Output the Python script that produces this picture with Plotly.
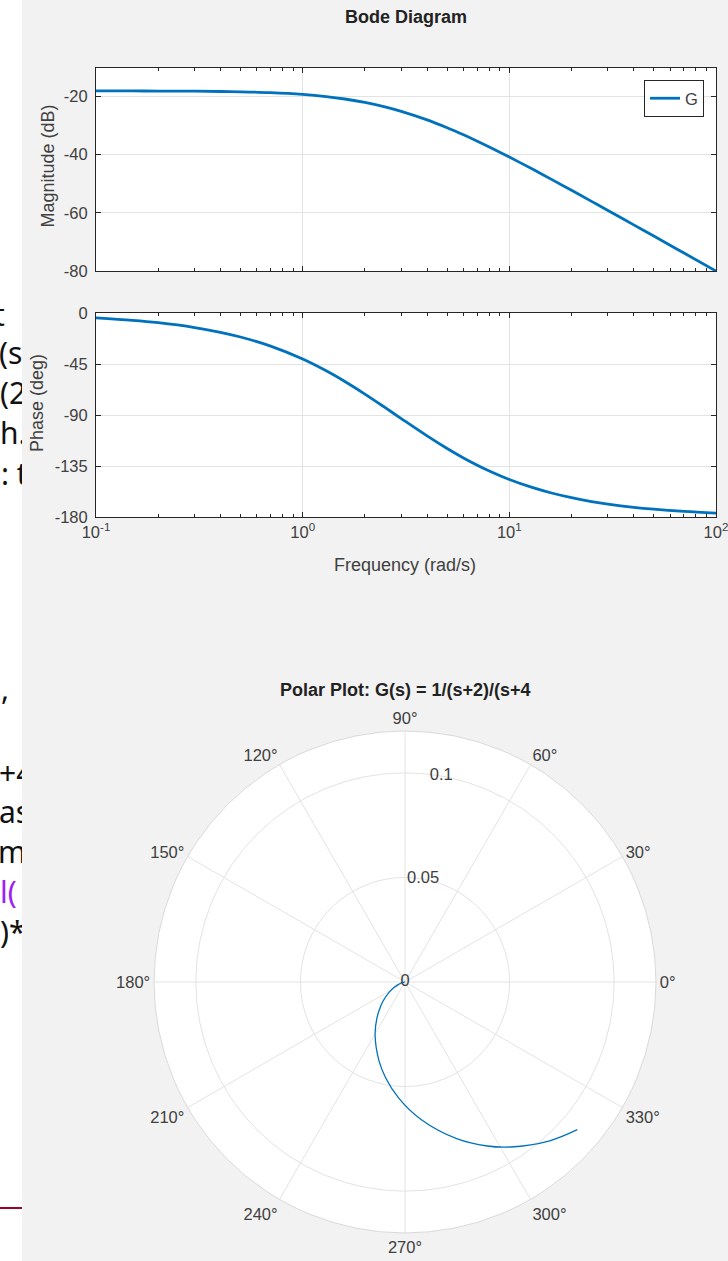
import plotly.graph_objects as go

W, H = 728, 1261

# ---------------- data ----------------
freq = [0.1, 0.15, 0.2, 0.3, 0.4, 0.5, 0.7, 1, 1.3, 1.6, 2, 2.5, 3, 4, 5, 6, 7, 8,
        10, 13, 16, 20, 25, 30, 40, 50, 70, 100]
mag_db = [-18.08, -18.09, -18.12, -18.18, -18.28, -18.39, -18.69, -19.29, -20.03,
          -20.86, -22.04, -23.58, -25.12, -28.06, -30.75, -33.18, -35.37, -37.36,
          -40.82, -45.05, -48.50, -52.26, -56.06, -59.18, -64.14, -67.99, -73.82, -80.01]
phase_deg = [-4.29, -6.44, -8.57, -12.82, -17.02, -21.16, -29.22, -40.60, -51.02,
             -60.46, -71.57, -83.35, -93.18, -108.43, -119.54, -127.87, -134.31,
             -139.40, -146.89, -154.15, -158.83, -162.98, -166.34, -168.59, -171.43,
             -173.14, -175.09, -176.56]

polar_r = [0.1085, 0.1027, 0.0936, 0.0877, 0.0791, 0.0662, 0.0555, 0.0467, 0.0395,
           0.0290, 0.0219, 0.0170, 0.0136, 0.0091, 0.00559, 0.00376, 0.00244,
           0.00110, 0.00040, 0.00010]
polar_theta = [-40.60, -47.66, -57.43, -63.39, -71.57, -83.35, -93.18, -101.45,
               -108.43, -119.54, -127.87, -134.31, -139.40, -146.89, -154.15,
               -158.83, -162.98, -168.59, -173.14, -176.56]

freq_ticks = [0.1, 1, 10, 100]
freq_ticktext = ["10<sup>-1</sup>", "10<sup>0</sup>", "10<sup>1</sup>", "10<sup>2</sup>"]
freq_minor = [0.2, 0.3, 0.4, 0.5, 0.6, 0.7, 0.8, 0.9, 2, 3, 4, 5, 6, 7, 8, 9,
              20, 30, 40, 50, 60, 70, 80, 90]
mag_ticks = [-80, -60, -40, -20]
mag_ticktext = ["-80", "-60", "-40", "-20"]
phase_ticks = [-180, -135, -90, -45, 0]
phase_ticktext = ["-180", "-135", "-90", "-45", "0"]
r_ticks = [0, 0.05, 0.1]
r_ticktext = ["0", "0.05", "0.1"]

# background slide text fragments (clipped at the figure edge)
slide_text = ["t", "(s", "(2", "h.", ": t", ",", "+4", "as", "m", "l(", ")*"]
slide_x = [-6, -1, 0, 0, 1, 1, -1, -1, -2, 0, 0]
slide_y = [318, 356, 396, 436, 477, 692, 776, 815, 855, 895, 935]
slide_col = ["#111111"] * 9 + ["#a020f0", "#111111"]

# ---------------- styling ----------------
FONT = "Liberation Sans"
AX = "#262626"
GRID = "#e3e3e3"
TXT = "#404040"
BLUE = "#0072BD"
TICK_SIZE = 16.5
LABEL_SIZE = 18


def px_x(p):
    return p / W


def px_y(p):
    return (H - p) / H


fig = go.Figure()

fig.add_trace(go.Scatter(x=freq, y=mag_db, mode="lines", name="G",
                         line=dict(color=BLUE, width=2.8, shape="spline"),
                         xaxis="x", yaxis="y", showlegend=True))
fig.add_trace(go.Scatter(x=freq, y=phase_deg, mode="lines", name="G",
                         line=dict(color=BLUE, width=2.8, shape="spline"),
                         xaxis="x2", yaxis="y2", showlegend=False))

fig.add_trace(go.Scatterpolar(r=polar_r, theta=polar_theta, mode="lines",
                              line=dict(color=BLUE, width=1.3, shape="spline"),
                              showlegend=False, subplot="polar"))
fig.add_trace(go.Scatterpolar(r=r_ticks, theta=[80] * len(r_ticks), mode="text",
                              text=r_ticktext, textposition="middle center",
                              textfont=dict(family=FONT, size=TICK_SIZE, color=TXT),
                              showlegend=False, subplot="polar", hoverinfo="skip"))

fig.add_trace(go.Scatter(x=slide_x, y=slide_y, mode="text", text=slide_text,
                         textposition="middle right",
                         textfont=dict(family="Noto Sans", size=30, color=slide_col),
                         cliponaxis=True, xaxis="x3", yaxis="y3", showlegend=False,
                         hoverinfo="skip"))
fig.add_trace(go.Scatter(x=[0, 22], y=[1208, 1208], mode="lines",
                         line=dict(color="#a0002a", width=2), cliponaxis=True,
                         xaxis="x3", yaxis="y3", showlegend=False, hoverinfo="skip"))

common_x = dict(type="log", range=[-1, 2], tickmode="array", tickvals=freq_ticks,
                ticks="inside", ticklen=5, tickcolor=AX, mirror="ticks",
                showline=True, linecolor=AX, linewidth=1, showgrid=True,
                gridcolor=GRID, zeroline=False, automargin=False,
                ticklabeloverflow="allow",
                minor=dict(tickmode="array", tickvals=freq_minor, ticks="inside",
                           ticklen=3, tickcolor=AX, showgrid=False),
                tickfont=dict(family=FONT, size=TICK_SIZE, color=TXT))
common_y = dict(ticks="inside", ticklen=5, tickcolor=AX, mirror="ticks",
                showline=True, linecolor=AX, linewidth=1, showgrid=True,
                gridcolor=GRID, zeroline=False, tickmode="array", automargin=False,
                ticklabelstandoff=4,
                tickfont=dict(family=FONT, size=TICK_SIZE, color=TXT))


def label(text, x, y, angle=0, color=TXT):
    return dict(text=text, x=px_x(x), y=px_y(y), xref="paper", yref="paper",
                xanchor="center", yanchor="middle", showarrow=False,
                textangle=angle, font=dict(family=FONT, size=LABEL_SIZE, color=color))


fig.update_layout(
    template="none",
    width=W, height=H, autosize=False,
    margin=dict(l=0, r=0, t=0, b=0, pad=0, autoexpand=False),
    paper_bgcolor="#f2f2f2", plot_bgcolor="white",
    font=dict(family=FONT, color=TXT),
    xaxis=dict(common_x, domain=[px_x(96), px_x(716)], anchor="y",
               showticklabels=False),
    yaxis=dict(common_y, domain=[px_y(271), px_y(68)], anchor="x",
               range=[-80, -10.2], tickvals=mag_ticks, ticktext=mag_ticktext),
    xaxis2=dict(common_x, domain=[px_x(96), px_x(716)], anchor="y2",
                ticktext=freq_ticktext, showticklabels=True),
    yaxis2=dict(common_y, domain=[px_y(517), px_y(313)], anchor="x2",
                range=[-180, 0], tickvals=phase_ticks, ticktext=phase_ticktext),
    xaxis3=dict(domain=[0, px_x(22)], range=[0, 22], visible=False, anchor="y3",
                fixedrange=True, automargin=False),
    yaxis3=dict(domain=[0, 1], range=[H, 0], visible=False, anchor="x3",
                fixedrange=True, automargin=False),
    polar=dict(
        domain=dict(x=[px_x(154), px_x(656)], y=[px_y(1233), px_y(731)]),
        bgcolor="white",
        angularaxis=dict(direction="counterclockwise", rotation=0, dtick=30,
                         ticksuffix="°", ticks="", showline=True,
                         linecolor="#d9d9d9", linewidth=1, showgrid=True,
                         gridcolor=GRID,
                         tickfont=dict(family=FONT, size=TICK_SIZE, color=TXT)),
        radialaxis=dict(range=[0, 0.12], tickmode="array", tickvals=r_ticks,
                        showticklabels=False, ticks="", showline=False,
                        showgrid=True, gridcolor=GRID, angle=80),
    ),
    legend=dict(x=px_x(704), xanchor="right", y=px_y(80), yanchor="top",
                bgcolor="white", bordercolor=AX, borderwidth=1,
                font=dict(family=FONT, size=TICK_SIZE, color=TXT),
                itemwidth=30, tracegroupgap=0),
    annotations=[
        label("<b>Bode Diagram</b>", 406, 17, color="#222222"),
        label("Magnitude (dB)", 47.5, 166, angle=-90),
        label("Phase (deg)", 37, 403, angle=-90),
        label("Frequency (rad/s)", 405, 565),
        label("<b>Polar Plot: G(s) = 1/(s+2)/(s+4</b>", 405, 690, color="#222222"),
    ],
)

fig.write_html("out.html")
